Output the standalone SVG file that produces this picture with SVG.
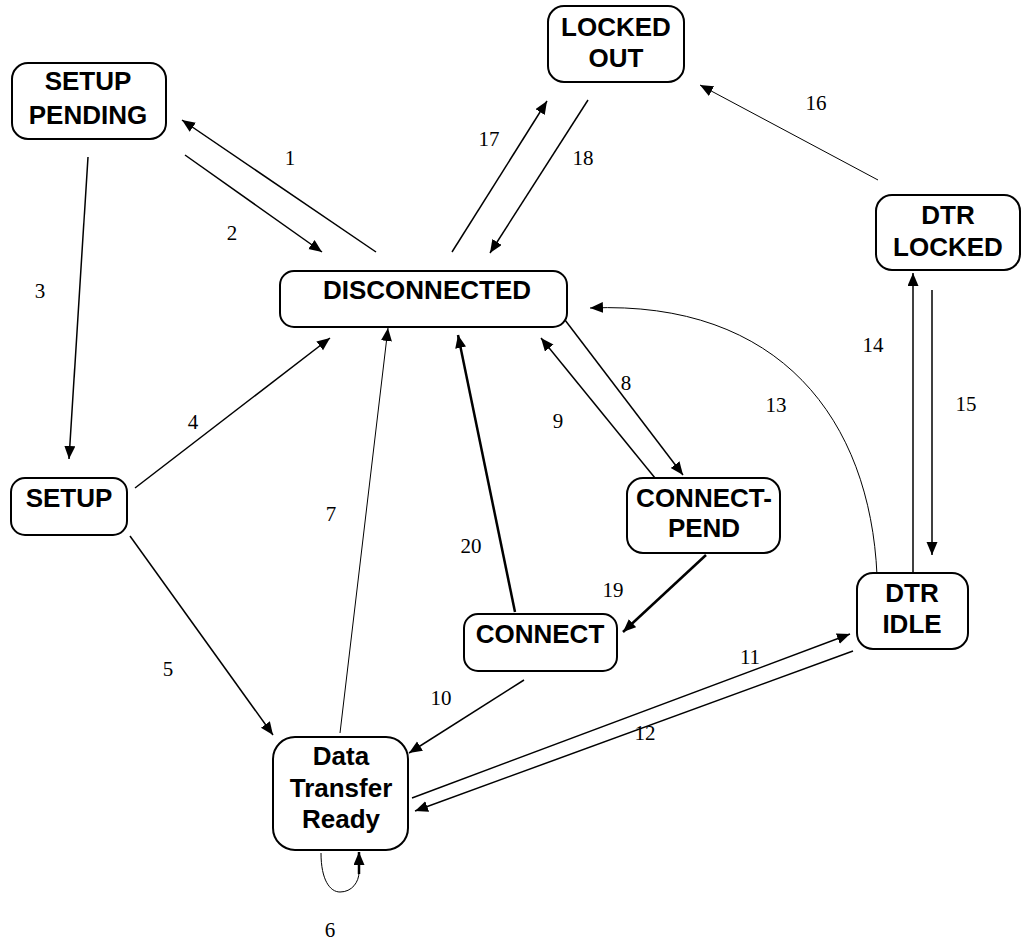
<svg xmlns="http://www.w3.org/2000/svg" width="1021" height="942" viewBox="0 0 1021 942">
<style>
.box{fill:#fff;stroke:#000;stroke-width:2}
.nt{font-family:"Liberation Sans",Arial,sans-serif;font-weight:bold;font-size:26px;text-anchor:middle;fill:#000}
.lb{font-family:"Liberation Serif","Times New Roman",serif;font-size:21px;text-anchor:middle;fill:#000}
.c{fill:none;stroke:#000;stroke-width:1.5;marker-end:url(#ah)}
.thin{stroke-width:1}
.thick{stroke-width:2.5}
</style>
<defs>
<marker id="ah" markerUnits="userSpaceOnUse" markerWidth="14" markerHeight="12" refX="13" refY="5.5" orient="auto">
<path d="M0,0 L13,5.5 L0,11 Z" fill="#000"/>
</marker>
</defs>
<rect width="1021" height="942" fill="#fff"/>
<g id="connectors">
<line class="c" x1="376" y1="252" x2="182" y2="120"/>
<line class="c" x1="185" y1="155" x2="322" y2="252"/>
<line class="c" x1="88" y1="157" x2="69" y2="459"/>
<line class="c" x1="135" y1="488" x2="330" y2="338"/>
<line class="c" x1="130" y1="536" x2="273" y2="735"/>
<path fill="none" stroke="#000" stroke-width="1" d="M321,853 C321,880 330,892 340,892 C352,892 359,882 359,872"/>
<line class="c thick" x1="359" y1="874" x2="359" y2="852"/>
<line class="c thin" x1="340" y1="733" x2="388" y2="328"/>
<line class="c" x1="565" y1="320" x2="683" y2="475"/>
<line class="c" x1="655" y1="478" x2="541" y2="338"/>
<line class="c" x1="524" y1="680" x2="409" y2="753"/>
<line class="c" x1="412" y1="798" x2="850" y2="634"/>
<line class="c" x1="853" y1="651" x2="415" y2="811"/>
<path class="c thin" d="M877,575 C870,420 780,300 590,308"/>
<line class="c" x1="913" y1="578" x2="913" y2="273"/>
<line class="c" x1="932" y1="290" x2="932" y2="555"/>
<line class="c thin" x1="878" y1="180" x2="700" y2="85"/>
<line class="c" x1="452" y1="252" x2="547" y2="101"/>
<line class="c" x1="588" y1="100" x2="490" y2="253"/>
<line class="c thick" x1="706" y1="555" x2="623" y2="632"/>
<line class="c thick" x1="515" y1="612" x2="458" y2="335"/>
</g>
<g id="labels">
<text class="lb" x="290" y="165">1</text>
<text class="lb" x="232" y="240">2</text>
<text class="lb" x="40" y="298">3</text>
<text class="lb" x="193" y="429">4</text>
<text class="lb" x="168" y="676">5</text>
<text class="lb" x="330" y="937">6</text>
<text class="lb" x="331" y="521">7</text>
<text class="lb" x="626" y="390">8</text>
<text class="lb" x="558" y="428">9</text>
<text class="lb" x="441" y="705">10</text>
<text class="lb" x="750" y="664">11</text>
<text class="lb" x="645" y="740">12</text>
<text class="lb" x="776" y="412">13</text>
<text class="lb" x="873" y="352">14</text>
<text class="lb" x="966" y="411">15</text>
<text class="lb" x="816" y="110">16</text>
<text class="lb" x="489" y="146">17</text>
<text class="lb" x="583" y="165">18</text>
<text class="lb" x="613" y="597">19</text>
<text class="lb" x="471" y="553">20</text>
</g>
<g id="setup-pending"><rect class="box" x="12" y="63" width="154" height="76" rx="16"/><text class="nt" x="88" y="90">SETUP</text><text class="nt" x="88" y="124">PENDING</text></g>
<g id="locked-out"><rect class="box" x="548" y="6" width="136" height="76" rx="16"/><text class="nt" x="616" y="36">LOCKED</text><text class="nt" x="616" y="67">OUT</text></g>
<g id="dtr-locked"><rect class="box" x="876" y="195" width="144" height="75" rx="16"/><text class="nt" x="948" y="224">DTR</text><text class="nt" x="948" y="256">LOCKED</text></g>
<g id="disconnected"><rect class="box" x="280" y="271" width="287" height="56" rx="14"/><text class="nt" x="427" y="299">DISCONNECTED</text></g>
<g id="setup"><rect class="box" x="11" y="478" width="116" height="57" rx="14"/><text class="nt" x="69" y="507">SETUP</text></g>
<g id="connect-pend"><rect class="box" x="627" y="478" width="153" height="75" rx="16"/><text class="nt" x="704" y="507">CONNECT-</text><text class="nt" x="704" y="537">PEND</text></g>
<g id="connect"><rect class="box" x="464" y="614" width="153" height="57" rx="14"/><text class="nt" x="540" y="643">CONNECT</text></g>
<g id="dtr-idle"><rect class="box" x="857" y="573" width="111" height="76" rx="16"/><text class="nt" x="912" y="602">DTR</text><text class="nt" x="912" y="633">IDLE</text></g>
<g id="data-transfer-ready"><rect class="box" x="273" y="737" width="135" height="113" rx="22"/><text class="nt" x="341" y="765">Data</text><text class="nt" x="341" y="797">Transfer</text><text class="nt" x="341" y="828">Ready</text></g>
</svg>
